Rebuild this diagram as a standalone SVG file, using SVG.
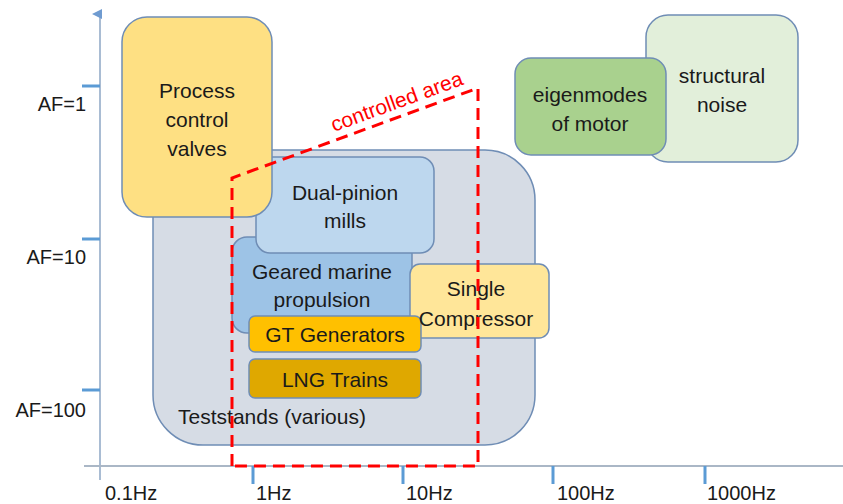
<svg xmlns="http://www.w3.org/2000/svg" width="843" height="504" viewBox="0 0 843 504">
<defs>
<style>
.t{font-family:"Liberation Sans",Arial,sans-serif;font-size:21px;fill:#1a1a1a;text-anchor:middle}
.ax{font-family:"Liberation Sans",Arial,sans-serif;font-size:20px;fill:#1a1a1a}
.b{stroke:#6f8db5;stroke-width:1.5}
.tick{stroke:#5b9bd5;stroke-width:3}
</style>
<marker id="arr" markerWidth="10" markerHeight="10" refX="5" refY="8" orient="auto" markerUnits="userSpaceOnUse" viewBox="0 0 10 10">
<path d="M0,10 L5,0 L10,10 Z" fill="#6f9bd0"/>
</marker>
</defs>
<rect width="843" height="504" fill="#ffffff"/>
<g id="axes">
<line x1="100" y1="480" x2="100" y2="14" stroke="#a9bcd3" stroke-width="2" marker-end="url(#arr)"/>
<line x1="84" y1="466" x2="843" y2="466" stroke="#aab7c6" stroke-width="2"/>
<line class="tick" x1="82" y1="86" x2="100" y2="86"/>
<line class="tick" x1="82" y1="239" x2="100" y2="239"/>
<line class="tick" x1="82" y1="390" x2="100" y2="390"/>
<line class="tick" x1="253" y1="466" x2="253" y2="484"/>
<line class="tick" x1="403" y1="466" x2="403" y2="484"/>
<line class="tick" x1="553" y1="466" x2="553" y2="484"/>
<line class="tick" x1="705" y1="466" x2="705" y2="484"/>
<text class="ax" x="86" y="111" text-anchor="end">AF=1</text>
<text class="ax" x="86" y="264" text-anchor="end">AF=10</text>
<text class="ax" x="86" y="417" text-anchor="end">AF=100</text>
<text class="ax" x="105" y="500">0.1Hz</text>
<text class="ax" x="256" y="500">1Hz</text>
<text class="ax" x="406" y="500">10Hz</text>
<text class="ax" x="557" y="500">100Hz</text>
<text class="ax" x="707" y="500">1000Hz</text>
</g>
<g id="teststands">
<rect class="b" x="153" y="150" width="382" height="295" rx="50" fill="#d6dce5"/>
<text class="t" x="272" y="424">Teststands (various)</text>
</g>
<g id="structural-noise">
<rect class="b" x="646" y="15" width="152" height="147" rx="22" fill="#e2efda"/>
<text class="t" x="722" y="83">structural</text>
<text class="t" x="722" y="112">noise</text>
</g>
<g id="eigenmodes">
<rect class="b" x="515" y="58" width="151" height="97" rx="16" fill="#a9d18e"/>
<text class="t" x="590" y="102">eigenmodes</text>
<text class="t" x="590" y="131">of motor</text>
</g>
<g id="geared-marine">
<rect class="b" x="232" y="237" width="180" height="96" rx="15" fill="#9dc3e6"/>
<text class="t" x="322" y="279">Geared marine</text>
<text class="t" x="322" y="307">propulsion</text>
</g>
<g id="single-compressor">
<rect class="b" x="410" y="264" width="139" height="74" rx="10" fill="#ffe699"/>
</g>
<g id="gt-generators">
<rect class="b" x="249" y="316" width="172" height="36" rx="6" fill="#ffc000"/>
<text class="t" x="335" y="342">GT Generators</text>
</g>
<g id="single-compressor-label">
<text class="t" x="476" y="296">Single</text>
<text class="t" x="476" y="326">Compressor</text>
</g>
<g id="lng-trains">
<rect class="b" x="249" y="359" width="172" height="39" rx="6" fill="#dfa800"/>
<text class="t" x="335" y="387">LNG Trains</text>
</g>
<g id="dual-pinion">
<rect class="b" x="256" y="157" width="178" height="96" rx="14" fill="#bdd7ee"/>
<text class="t" x="345" y="200">Dual-pinion</text>
<text class="t" x="345" y="228">mills</text>
</g>
<g id="process-valves">
<rect class="b" x="122" y="17" width="150" height="200" rx="25" fill="#fee083"/>
<text class="t" x="197" y="98">Process</text>
<text class="t" x="197" y="127">control</text>
<text class="t" x="197" y="156">valves</text>
</g>
<g id="connectors">
<path d="M232,466 L232,178 L478,88 L478,466 Z" fill="none" stroke="#ff0000" stroke-width="3" stroke-dasharray="12,7"/>
<text x="334" y="132" transform="rotate(-20.1 334 132)" font-family="'Liberation Sans',Arial,sans-serif" font-size="21" fill="#ff0000">controlled area</text>
</g>
</svg>
